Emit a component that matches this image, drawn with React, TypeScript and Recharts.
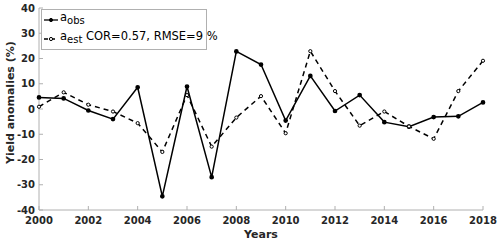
import { LineChart, Line, XAxis, YAxis } from 'recharts';

const years = [2000, 2001, 2002, 2003, 2004, 2005, 2006, 2007, 2008, 2009, 2010, 2011, 2012, 2013, 2014, 2015, 2016, 2017, 2018];
const obs = [4.6, 4.2, -0.6, -4, 8.6, -34.6, 8.9, -27, 22.8, 17.6, -4.6, 13.1, -0.8, 5.5, -5.2, -7, -3.2, -2.9, 2.6];
const est = [0.9, 6.6, 1.7, -1, -5.6, -17, 5.5, -14.9, -3.4, 5.1, -9.6, 22.9, 7.1, -6.6, -1, -6.9, -11.8, 7.1, 19.1];
const xTicks = [2000, 2002, 2004, 2006, 2008, 2010, 2012, 2014, 2016, 2018];
const yTicks = [-40, -30, -20, -10, 0, 10, 20, 30, 40];
const corText = 'COR=0.57, RMSE=9 %';

const data = years.map((y, i) => ({ year: y, obs: obs[i], est: est[i] }));

const FONT = '"DejaVu Sans", sans-serif';
const boxColor = '#b0b0b0';
const tickFont = { fill: '#262626', fontSize: 10, fontWeight: 700, fontFamily: FONT };

function LegendBox() {
    const row = { display: 'flex', alignItems: 'center', height: 19, whiteSpace: 'nowrap' as const };
    const sample = (dash: boolean, hollow: boolean) => (
        <svg width={16} height={8} style={{ marginRight: 1, flexShrink: 0 }}>
            <line x1={1} y1={4} x2={15} y2={4} stroke="#000" strokeWidth={1.3} strokeDasharray={dash ? '4 3' : undefined} />
            <circle cx={8} cy={4} r={1.6} fill={hollow ? '#fff' : '#000'} stroke="#000" strokeWidth={1} />
        </svg>
    );
    return (
        <div style={{ position: 'absolute', left: 41, top: 9, border: `1px solid ${boxColor}`, background: '#fff', width: 166, height: 41, boxSizing: 'border-box', padding: '0 0 0 1px', fontFamily: FONT, fontSize: 11.5, color: '#000', lineHeight: 1 }}>
            <div style={row}>
                {sample(false, false)}
                <span>a<sub style={{ fontSize: 10 }}>obs</sub></span>
            </div>
            <div style={row}>
                {sample(true, true)}
                <span>a<sub style={{ fontSize: 10 }}>est</sub> {corText}</span>
            </div>
        </div>
    );
}

export default function App() {
    return (
        <div style={{ position: 'fixed', left: 0, top: 0, width: 500, height: 241, background: '#fff' }}>
            <LineChart width={500} height={241} data={data} margin={{ top: 8, right: 17, left: 0, bottom: 0 }}>
                <XAxis
                    dataKey="year"
                    type="number"
                    domain={[2000, 2018]}
                    ticks={xTicks}
                    stroke={boxColor}
                    tickSize={-4}
                    tickMargin={11}
                    tick={tickFont}
                    height={31}
                    label={{ value: 'Years', position: 'insideBottom', offset: 3, style: { fill: '#262626', fontSize: 11, fontWeight: 700, fontFamily: FONT } }}
                />
                <XAxis xAxisId="top" orientation="top" dataKey="year" type="number" domain={[2000, 2018]} ticks={xTicks} stroke={boxColor} tickSize={-4} tickFormatter={() => ''} height={0} />
                <YAxis
                    type="number"
                    domain={[-40, 40]}
                    ticks={yTicks}
                    stroke={boxColor}
                    tickSize={-4}
                    tickMargin={8}
                    tick={tickFont}
                    width={39}
                    label={{ value: 'Yield anomalies (%)', angle: -90, position: 'insideLeft', offset: 10, dy: 55, style: { fill: '#262626', fontSize: 11, fontWeight: 700, fontFamily: FONT } }}
                />
                <YAxis yAxisId="right" orientation="right" type="number" domain={[-40, 40]} ticks={yTicks} stroke={boxColor} tickSize={-4} tickFormatter={() => ''} width={0} />
                <Line type="linear" dataKey="obs" stroke="#000" strokeWidth={1.5} dot={{ r: 1.6, fill: '#000', stroke: '#000' }} isAnimationActive={false} />
                <Line type="linear" dataKey="est" stroke="#000" strokeWidth={1.5} strokeDasharray="5 4" dot={{ r: 1.6, fill: '#fff', stroke: '#000', strokeWidth: 1, strokeDasharray: '' }} isAnimationActive={false} />
            </LineChart>
            <LegendBox />
        </div>
    );
}
